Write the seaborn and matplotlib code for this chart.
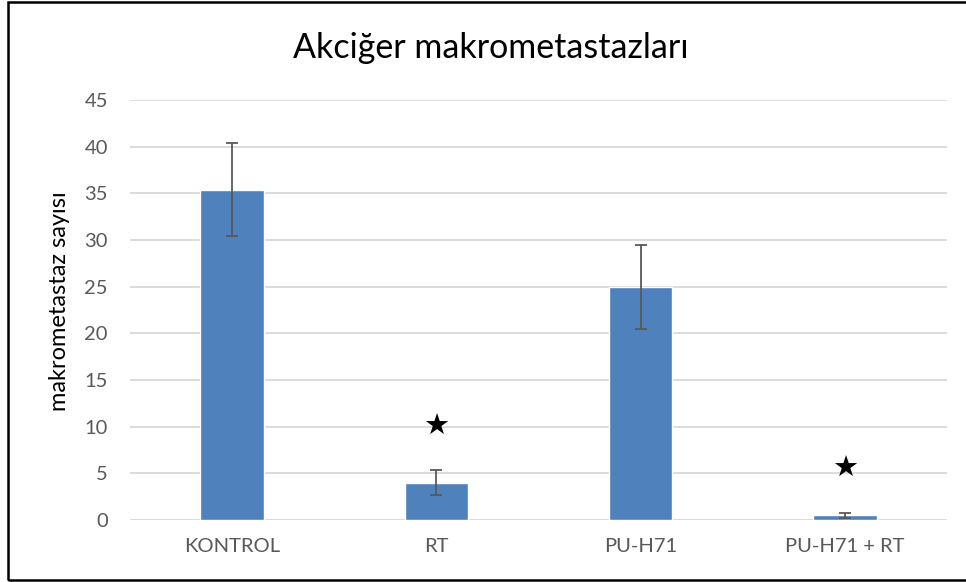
import matplotlib
matplotlib.use("Agg")
import matplotlib.pyplot as plt
import seaborn as sns
import pandas as pd
from matplotlib.patches import Rectangle

# Lung macrometastasis counts per treatment group
groups = ["KONTROL", "RT", "PU-H71", "PU-H71 + RT"]
means = [35.4, 4.0, 25.0, 0.5]
errors = [5.0, 1.35, 4.5, 0.25]
star_heights = [None, 10.0, None, 5.5]
y_ticks = [0, 5, 10, 15, 20, 25, 30, 35, 40, 45]

df = pd.DataFrame({"grup": groups, "ortalama": means})

sns.set_theme(style="white")
plt.rcParams["font.family"] = ["Lato", "DejaVu Sans"]

fig = plt.figure(figsize=(9.66, 5.82), dpi=100)
ax = fig.add_axes([130 / 966, 1 - 520 / 582, (947 - 130) / 966, 420 / 582])

sns.barplot(data=df, x="grup", y="ortalama", color="#4F81BD", saturation=1,
            width=0.31, ax=ax, zorder=3)
ax.errorbar(range(len(groups)), means, yerr=errors, fmt="none",
            ecolor="#595959", elinewidth=1.3, capsize=4.5, capthick=1.3, zorder=4)

for i, h in enumerate(star_heights):
    if h is not None:
        ax.text(i, h, "★", ha="center", va="center", fontsize=21,
                family=["DejaVu Sans"], color="black", zorder=5)

ax.set_ylim(0, 45)
ax.set_xlim(-0.5, len(groups) - 0.5)
ax.set_yticks(y_ticks)
ax.yaxis.grid(True, color="#D9D9D9", linewidth=1.3, zorder=0)
ax.set_axisbelow(True)
for s in ax.spines.values():
    s.set_visible(False)
ax.tick_params(axis="both", length=0, labelsize=14.5, labelcolor="#595959")
ax.tick_params(axis="y", pad=16)
ax.tick_params(axis="x", pad=13)
ax.set_xlabel("")
ax.set_ylabel("makrometastaz sayısı", fontsize=17, color="black")
ax.yaxis.set_label_coords(-0.074, 0.52)

fig.text(0.508, 1 - 48 / 582, "Akciğer makrometastazları", ha="center", va="center",
         fontsize=24.5, color="black")

# frame around the chart
fig.patches.append(Rectangle((8 / 966, 2 / 582), 1.2, 1 - 4 / 582,
                             transform=fig.transFigure, fill=False,
                             edgecolor="black", linewidth=1.8))

fig.savefig("out.png", dpi=100)
